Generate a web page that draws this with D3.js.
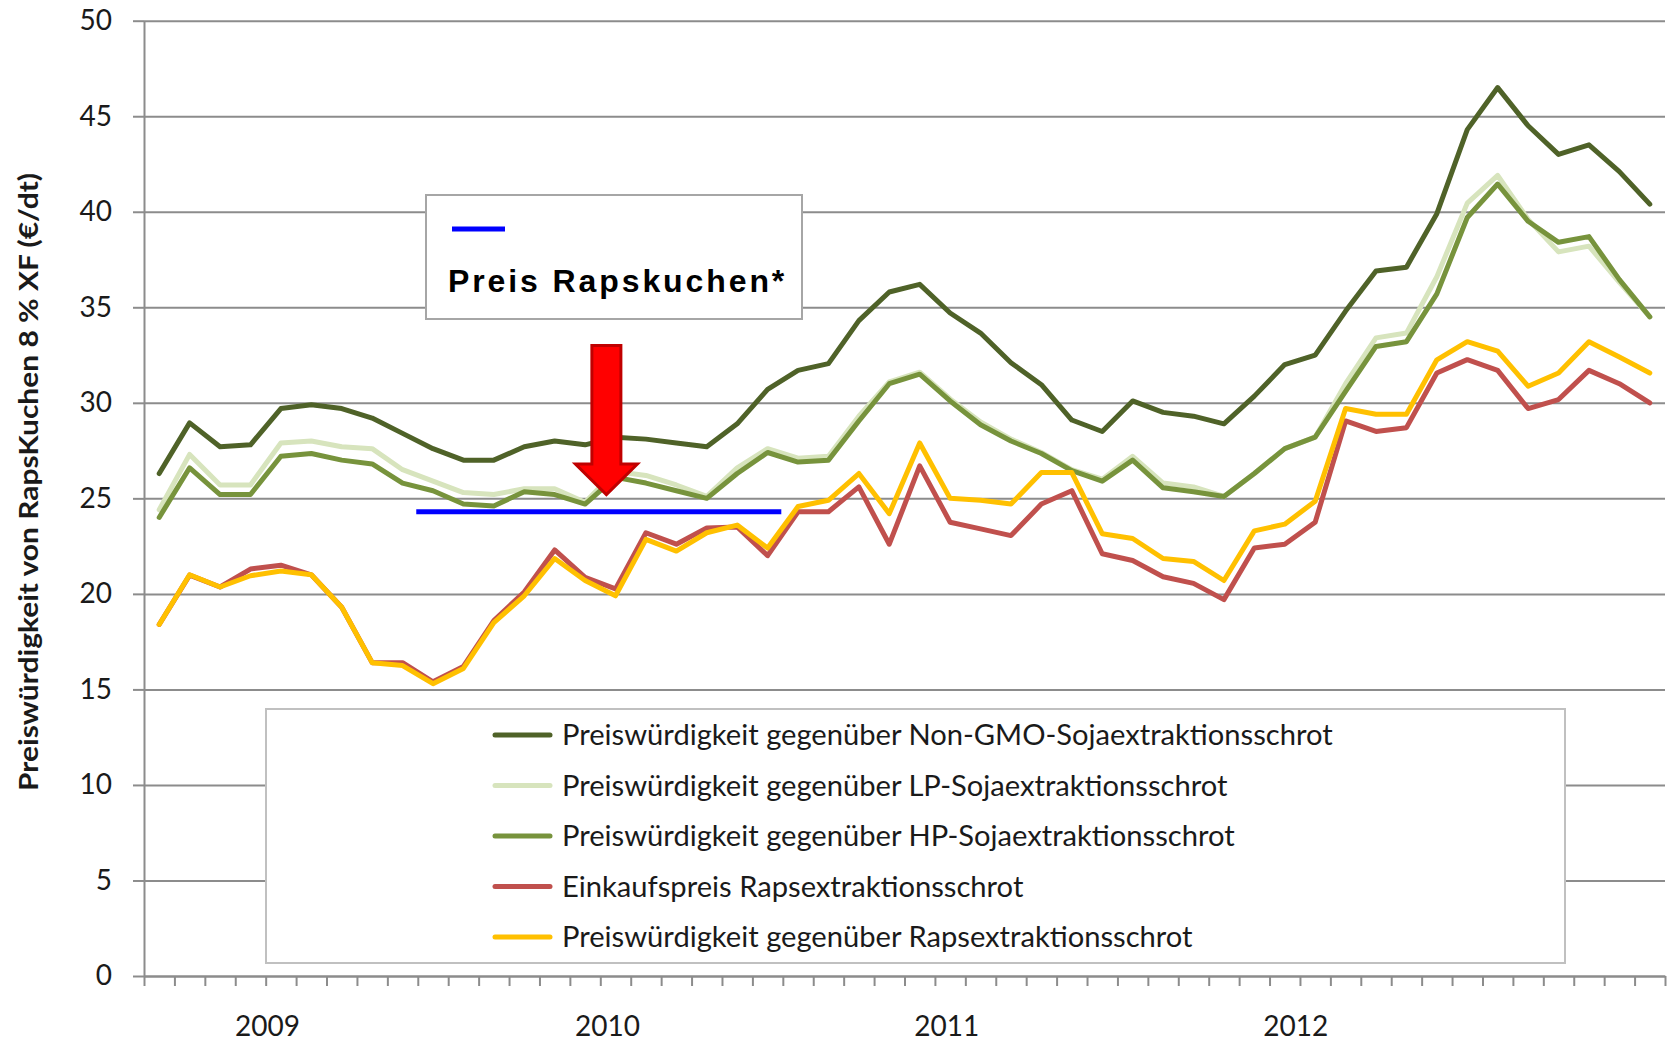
<!DOCTYPE html>
<html>
<head>
<meta charset="utf-8">
<script src="https://d3js.org/d3.v7.min.js"></script>
<style>
  body { margin: 0; background: #fff; }
  svg { display: block; }
  text { font-family: Lato, "Open Sans", sans-serif; fill: #1a1a1a; }
</style>
</head>
<body>
<svg width="1673" height="1041"></svg>
<script>
// monthly values, 50 months (€/dt)
const nonGmo = [26.3, 28.95, 27.7, 27.8, 29.7, 29.9, 29.7, 29.2, 28.4, 27.6,
                27.0, 27.0, 27.7, 28.0, 27.8, 28.2, 28.1, 27.9, 27.7, 28.9,
                30.7, 31.7, 32.05, 34.3, 35.8, 36.2, 34.7, 33.65, 32.1, 30.95,
                29.1, 28.5, 30.1, 29.5, 29.3, 28.9, 30.35, 32.0, 32.5, 34.8,
                36.9, 37.1, 39.9, 44.3, 46.5, 44.5, 43.0, 43.5, 42.1, 40.4]
const lpSoja = [24.4, 27.3, 25.7, 25.7, 27.9, 28.0, 27.7, 27.6, 26.5, 25.9,
                25.3, 25.2, 25.5, 25.5, 24.8, 26.4, 26.2, 25.7, 25.1, 26.6,
                27.6, 27.1, 27.2, 29.3, 31.1, 31.6, 30.2, 29.0, 28.1, 27.4,
                26.5, 26.0, 27.2, 25.8, 25.6, 25.1, 26.3, 27.6, 28.2, 31.0,
                33.4, 33.65, 36.6, 40.45, 41.9, 39.6, 37.9, 38.2, 36.3, 34.5]
const hpSoja = [24.0, 26.6, 25.2, 25.2, 27.2, 27.35, 27.0, 26.8, 25.8, 25.4,
                24.7, 24.6, 25.35, 25.2, 24.7, 26.1, 25.8, 25.4, 25.0, 26.3,
                27.4, 26.9, 27.0, 29.05, 31.0, 31.5, 30.1, 28.85, 28.0, 27.35,
                26.45, 25.9, 27.0, 25.55, 25.35, 25.1, 26.3, 27.6, 28.2, 30.6,
                32.95, 33.2, 35.7, 39.7, 41.45, 39.5, 38.4, 38.7, 36.45, 34.5]
const einkaufRes = [18.4, 20.98, 20.36, 21.3, 21.5, 21.0, 19.3, 16.4, 16.4, 15.4,
                    16.2, 18.6, 20.1, 22.3, 20.86, 20.26, 23.2, 22.6, 23.45, 23.5,
                    22.0, 24.3, 24.3, 25.6, 22.6, 26.7, 23.75, 23.4, 23.05, 24.7,
                    25.4, 22.1, 21.75, 20.9, 20.55, 19.7, 22.4, 22.6, 23.75, 29.05,
                    28.5, 28.7, 31.56, 32.26, 31.7, 29.7, 30.17, 31.7, 31.0, 30.0]
const pwRes = [18.4, 21.0, 20.36, 20.95, 21.2, 21.0, 19.3, 16.4, 16.25, 15.3,
               16.1, 18.5, 19.9, 21.85, 20.7, 19.9, 22.85, 22.24, 23.2, 23.6,
               22.4, 24.57, 24.9, 26.3, 24.2, 27.9, 25.0, 24.9, 24.7, 26.35,
               26.35, 23.15, 22.9, 21.85, 21.7, 20.7, 23.3, 23.65, 24.85, 29.7,
               29.4, 29.4, 32.25, 33.2, 32.7, 30.87, 31.56, 33.2, 32.4, 31.56]

const seriesNames = [
  "Preiswürdigkeit gegenüber Non-GMO-Sojaextraktionsschrot",
  "Preiswürdigkeit gegenüber LP-Sojaextraktionsschrot",
  "Preiswürdigkeit gegenüber HP-Sojaextraktionsschrot",
  "Einkaufspreis Rapsextraktionsschrot",
  "Preiswürdigkeit gegenüber Rapsextraktionsschrot"
]
const seriesValues = [nonGmo, lpSoja, hpSoja, einkaufRes, pwRes]
const seriesColors = ["#4f6228", "#d7e4bd", "#77933c", "#c0504d", "#ffc000"]

const yTicks = [0, 5, 10, 15, 20, 25, 30, 35, 40, 45, 50]
const yearLabels = ["2009", "2010", "2011", "2012"]
const yearLabelAt = [4.06, 15.24, 26.39, 37.86]   // in months from the left edge

// Rapskuchen price bar and arrow
const rapsPreis = 24.3
const rapsFrom = 8.95, rapsTo = 20.95
const arrowAt = 15.2, arrowTop = 33.0, arrowHead = 26.8, arrowTip = 25.2

const yTitle = "Preiswürdigkeit von RapsKuchen  8 % XF (€/dt)"
const noteText = "Preis Rapskuchen*"

const svg = d3.select("svg")
const plotLeft = 144, plotRight = 1665, plotTop = 20.7, plotBottom = 976

const x = d3.scaleLinear().domain([0, nonGmo.length]).range([plotLeft, plotRight])
const y = d3.scaleLinear().domain([0, 50]).range([plotBottom, plotTop])

// gridlines
svg.append("g")
  .attr("transform", `translate(${plotLeft},0)`)
  .call(d3.axisLeft(y).tickValues(yTicks).tickSize(-(plotRight - plotLeft)).tickFormat(""))
  .call(g => g.select(".domain").remove())
  .selectAll("line").attr("stroke", "#8c8c8c").attr("stroke-width", 2)

// y axis
const yAxis = svg.append("g")
  .attr("transform", `translate(${plotLeft},0)`)
  .call(d3.axisLeft(y).tickValues(yTicks).tickSize(11).tickSizeOuter(0).tickPadding(21))
yAxis.select(".domain").attr("stroke", "#8c8c8c").attr("stroke-width", 2)
yAxis.selectAll(".tick line").attr("stroke", "#8c8c8c").attr("stroke-width", 2)
yAxis.selectAll(".tick text").attr("font-size", 28).attr("font-family", "Lato").attr("fill", "#1a1a1a")

// x axis (one tick per month boundary)
const xAxis = svg.append("g")
  .attr("transform", `translate(0,${plotBottom})`)
  .call(d3.axisBottom(x).tickValues(d3.range(0, nonGmo.length + 1)).tickSize(10).tickSizeOuter(0).tickFormat(""))
xAxis.select(".domain").attr("stroke", "#8c8c8c").attr("stroke-width", 2)
xAxis.selectAll(".tick line").attr("stroke", "#8c8c8c").attr("stroke-width", 2)

svg.selectAll(".year")
  .data(yearLabels)
  .enter()
  .append("text")
  .attr("class", "year")
  .attr("x", (d, i) => x(yearLabelAt[i]))
  .attr("y", 1036)
  .attr("text-anchor", "middle")
  .attr("font-size", 28)
  .text(d => d)

// y title
svg.append("text")
  .attr("transform", "translate(38,482) rotate(-90)")
  .attr("text-anchor", "middle")
  .attr("font-size", 27)
  .attr("font-weight", "bold")
  .attr("textLength", 618)
  .attr("lengthAdjust", "spacingAndGlyphs")
  .text(yTitle)

// legend box
const legend = svg.append("g")
legend.append("rect")
  .attr("x", 266).attr("y", 709).attr("width", 1299).attr("height", 254)
  .attr("fill", "#fff").attr("stroke", "#c0c0c0").attr("stroke-width", 2)
const item = legend.selectAll(".item")
  .data(seriesNames)
  .enter()
  .append("g")
  .attr("transform", (d, i) => `translate(0,${735 + i * 50.5})`)
item.append("line")
  .attr("x1", 495).attr("x2", 550)
  .attr("stroke", (d, i) => seriesColors[i])
  .attr("stroke-width", 5)
  .attr("stroke-linecap", "round")
const legendText = item.append("text")
  .attr("x", 562)
  .attr("dy", "0.35em")
  .attr("font-size", 27)
  .text(d => d)
// fit the font so the longest label spans like the original
const len0 = legendText.nodes()[0].getComputedTextLength()
legendText.attr("font-size", 27 * 771 / len0)

// note box
const note = svg.append("g")
note.append("rect")
  .attr("x", 426).attr("y", 195).attr("width", 376).attr("height", 124)
  .attr("fill", "#fff").attr("stroke", "#a6a6a6").attr("stroke-width", 2)
note.append("line")
  .attr("x1", 452).attr("x2", 505).attr("y1", 229).attr("y2", 229)
  .attr("stroke", "#0000ff").attr("stroke-width", 5)
note.append("text")
  .attr("x", 448).attr("y", 292)
  .style("font-family", "'Liberation Sans', Arial, sans-serif")
  .style("font-weight", "bold")
  .style("font-size", "32px")
  .style("letter-spacing", "2.9px")
  .style("fill", "#000")
  .text(noteText)

// series lines
const line = d3.line()
  .x((d, i) => x(i + 0.5))
  .y(d => y(d))

svg.selectAll(".series")
  .data(seriesValues)
  .enter()
  .append("path")
  .attr("class", "series")
  .attr("d", d => line(d))
  .attr("fill", "none")
  .attr("stroke", (d, i) => seriesColors[i])
  .attr("stroke-width", 5)
  .attr("stroke-linejoin", "round")
  .attr("stroke-linecap", "round")

// blue price line
svg.append("line")
  .attr("x1", x(rapsFrom)).attr("x2", x(rapsTo))
  .attr("y1", y(rapsPreis)).attr("y2", y(rapsPreis))
  .attr("stroke", "#0000ff").attr("stroke-width", 5)

// red arrow
const ax = x(arrowAt)
const shaft = 14.5, head = 31
svg.append("path")
  .attr("d", `M${ax - shaft},${y(arrowTop)} L${ax + shaft},${y(arrowTop)} L${ax + shaft},${y(arrowHead)}
     L${ax + head},${y(arrowHead)} L${ax},${y(arrowTip)} L${ax - head},${y(arrowHead)}
     L${ax - shaft},${y(arrowHead)} Z`)
  .attr("fill", "#ff0000")
  .attr("stroke", "#c00000")
  .attr("stroke-width", 3)
  .attr("stroke-linejoin", "miter")
</script>
</body>
</html>
